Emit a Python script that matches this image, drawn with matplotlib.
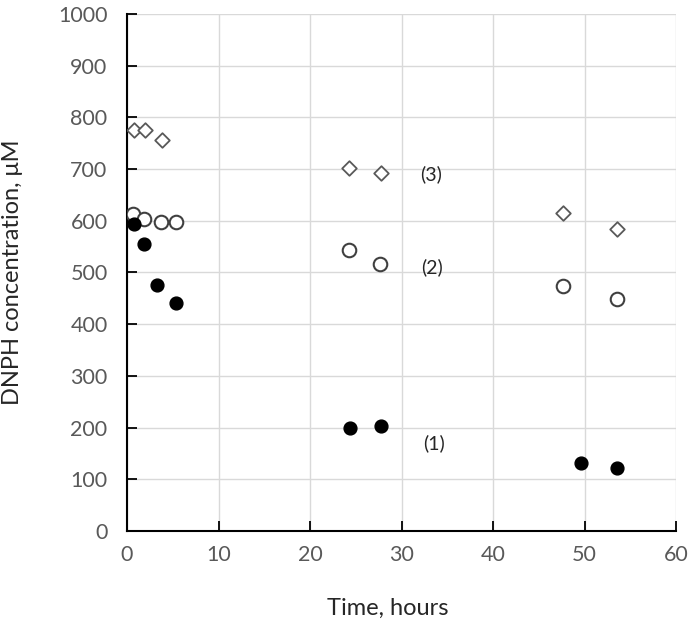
import matplotlib.pyplot as plt

# series (1): filled circles
t1 = [0.8, 1.9, 3.3, 5.4, 24.4, 27.8, 49.6, 53.6]
c1 = [594, 555, 475, 441, 200, 203, 131, 122]

# series (2): open circles
t2 = [0.7, 1.9, 3.7, 5.4, 24.3, 27.7, 47.7, 53.5]
c2 = [614, 604, 597, 597, 543, 516, 473, 449]

# series (3): open diamonds
t3 = [0.8, 2.0, 3.8, 24.3, 27.8, 47.7, 53.6]
c3 = [776, 776, 756, 703, 693, 616, 585]

labels = ["(1)", "(2)", "(3)"]
label_x = [33.5, 33.3, 33.2]
label_y = [170, 511, 691]

plt.rcParams['font.family'] = ['Lato', 'DejaVu Sans']

fig = plt.figure(figsize=(6.88, 6.27), dpi=100)
ax = fig.add_axes([0.1846, 0.1531, 0.798, 0.8246])

ax.scatter(t3, c3, marker='D', s=55, facecolor='white', edgecolor='#595959', linewidth=1.3, zorder=3)
ax.scatter(t2, c2, marker='o', s=95, facecolor='white', edgecolor='#404040', linewidth=1.5, zorder=3)
ax.scatter(t1, c1, marker='o', s=85, facecolor='black', edgecolor='black', zorder=4)

for lab, lx, ly in zip(labels, label_x, label_y):
    ax.text(lx, ly, lab, fontsize=14, color='#262626', ha='center', va='center')

ax.set_xlim(0, 60)
ax.set_ylim(0, 1000)
ax.set_xticks(range(0, 61, 10))
ax.set_yticks(range(0, 1001, 100))
ax.grid(True, color='#d9d9d9', linewidth=1)
ax.set_axisbelow(True)

for s in ['top', 'right']:
    ax.spines[s].set_visible(False)
for s in ['left', 'bottom']:
    ax.spines[s].set_linewidth(1.5)
    ax.spines[s].set_color('black')

ax.tick_params(direction='in', length=7, width=1.3, colors='black', labelcolor='#595959', labelsize=15.5)
ax.tick_params(axis='x', pad=10)
ax.tick_params(axis='y', pad=14)

ax.set_xlabel("Time, hours", fontsize=17, color='#262626')
ax.set_ylabel("DNPH concentration, μM", fontsize=17, color='#262626')
ax.xaxis.set_label_coords(0.475, -0.13)
ax.yaxis.set_label_coords(-0.19, 0.5)

fig.savefig("out.png", dpi=100)
